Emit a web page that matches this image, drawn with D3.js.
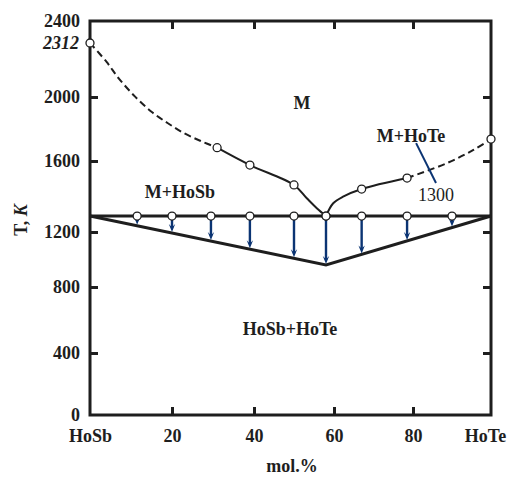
<!DOCTYPE html>
<html>
<head>
<meta charset="utf-8">
<script src="https://cdn.jsdelivr.net/npm/d3@7"></script>
<style>
  html, body { margin: 0; padding: 0; background: #fff; }
  svg { display: block; font-family: "Liberation Serif", "Times New Roman", serif; }
</style>
</head>
<body>
<svg id="chart" width="508" height="477"></svg>
<script>
// HoSb–HoTe phase diagram: composition (mol.% HoTe) vs temperature (K)

// Axis ticks and labels
const xTicks = [0, 20, 40, 60, 80, 100];
const xTickLabels = ["HoSb", "20", "40", "60", "80", "HoTe"];
const yTicks = [0, 400, 800, 1200, 1600, 2000, 2400];
const meltHoSb = 2312;

// Liquidus branches [mol.%, T]
const liquidusLeftDashed = [[0, 2312], [4, 2204], [7, 2108], [11, 2002], [15, 1908], [19, 1836], [23, 1773], [27, 1725], [31, 1683]];
const liquidusLeftSolid = [[31, 1683], [39, 1577], [50, 1465], [53.2, 1390], [55.7, 1334], [58, 1290]];
const liquidusRightSolid = [[58, 1290], [59.8, 1362], [62.3, 1399], [67, 1442], [78.5, 1504]];
const liquidusRightDashed = [[78.5, 1504], [88.6, 1587], [95.5, 1669], [100, 1737]];

// Measured liquidus points
const liquidusPoints = [[0, 2312], [31, 1683], [39, 1577], [50, 1465], [58, 1290], [67, 1442], [78.5, 1504], [100, 1737]];

// Eutectic horizontal and measured compositions on it
const eutecticT = 1290;
const eutecticPoints = [11.5, 20, 29.5, 39, 50, 58, 67, 78.5, 90];

// Solidus (lower boundary) [mol.%, T]
const solidus = [[0, 1290], [58, 960], [100, 1290]];

// Annotation line for the 1300 label [mol.%, T]
const note1300 = [[80.8, 1712], [85.9, 1476]];

const svg = d3.select("#chart");
const ink = "#1e1e1e";
const navy = "#0b3473";

const x = d3.scaleLinear().domain(xTicks).range([90, 172, 254, 334, 413, 491]);
const y = d3.scaleLinear()
  .domain([0, 400, 800, 1200, 1600, 2000, 2312, 2400])
  .range([415, 353, 287, 232, 161, 97, 43, 21]);

const fontSize = 18;

// Axes: ticks pointing inward, frame drawn as a rectangle
function styleAxis(g) {
  g.select(".domain").remove();
  g.selectAll(".tick line").attr("stroke", ink).attr("stroke-width", 3);
  g.selectAll(".tick text")
    .attr("fill", ink)
    .attr("font-size", fontSize)
    .attr("font-weight", "bold")
    .attr("font-family", "Liberation Serif, serif");
}

svg.append("g")
  .attr("transform", `translate(0,${y(0)})`)
  .call(d3.axisBottom(x).tickValues(xTicks).tickSize(-8).tickPadding(14)
    .tickFormat((d, i) => xTickLabels[i]))
  .call(styleAxis)
  .call(g => g.selectAll(".tick").filter(d => d === 0 || d === 100).select("line").remove())
  .call(g => g.selectAll(".tick").filter(d => d === 100).select("text").attr("dx", -6));

svg.append("g")
  .attr("transform", `translate(0,${y(2400)})`)
  .call(d3.axisTop(x).tickValues(xTicks.slice(1, -1)).tickSize(-8).tickFormat(""))
  .call(styleAxis);

svg.append("g")
  .attr("transform", `translate(${x(0)},0)`)
  .call(d3.axisLeft(y).tickValues(yTicks).tickSize(-8).tickPadding(10).tickFormat(d3.format("d")))
  .call(styleAxis)
  .call(g => g.selectAll(".tick").filter(d => d === 0 || d === 2400).select("line").remove());

svg.append("g")
  .attr("transform", `translate(${x(100)},0)`)
  .call(d3.axisRight(y).tickValues(yTicks.slice(1, -1)).tickSize(-8).tickFormat(""))
  .call(styleAxis);

// Melting point label of HoSb
svg.append("text")
  .attr("x", x(0) - 11).attr("y", y(meltHoSb)).attr("dy", "0.32em")
  .attr("text-anchor", "end")
  .attr("font-size", fontSize).attr("font-weight", "bold").attr("font-style", "italic")
  .attr("fill", ink)
  .text(meltHoSb);

// Plot frame
svg.append("rect")
  .attr("x", x(0)).attr("y", y(2400))
  .attr("width", x(100) - x(0)).attr("height", y(0) - y(2400))
  .attr("fill", "none").attr("stroke", ink).attr("stroke-width", 3);

// Axis titles
svg.append("text")
  .attr("transform", `translate(27,220) rotate(-90)`)
  .attr("text-anchor", "middle")
  .attr("font-size", fontSize).attr("font-weight", "bold").attr("fill", ink)
  .call(t => {
    t.append("tspan").text("T, ");
    t.append("tspan").attr("font-style", "italic").text("K");
  });

svg.append("text")
  .attr("x", 292).attr("y", 472)
  .attr("text-anchor", "middle")
  .attr("font-size", fontSize).attr("font-weight", "bold").attr("fill", ink)
  .text("mol.%");

const line = d3.line().x(d => x(d[0])).y(d => y(d[1]));
const smooth = d3.line().x(d => x(d[0])).y(d => y(d[1])).curve(d3.curveCatmullRom.alpha(0.5));

// Eutectic horizontal
svg.append("path")
  .attr("d", line([[0, eutecticT], [100, eutecticT]]))
  .attr("stroke", ink).attr("stroke-width", 3).attr("fill", "none");

// Solidus
svg.append("path")
  .attr("d", line(solidus))
  .attr("stroke", ink).attr("stroke-width", 3).attr("fill", "none")
  .attr("stroke-linejoin", "miter");

// Arrows from eutectic down to the drawn solidus
const solidusPx = d3.scaleLinear()
  .domain(solidus.map(d => x(d[0])))
  .range(solidus.map(d => y(d[1])));

const arrows = svg.append("g");
eutecticPoints.forEach(c => {
  const cx = x(c);
  const top = y(eutecticT) + 3;
  const tip = solidusPx(cx) - 1;
  const headLen = 8, headW = 3.2;
  arrows.append("line")
    .attr("x1", cx).attr("x2", cx)
    .attr("y1", top).attr("y2", tip - 4)
    .attr("stroke", navy).attr("stroke-width", 2.4);
  arrows.append("path")
    .attr("d", `M${cx},${tip} L${cx - headW},${tip - headLen} L${cx},${tip - headLen * 0.6} L${cx + headW},${tip - headLen} Z`)
    .attr("fill", navy);
});

// Liquidus
[[liquidusLeftDashed, true], [liquidusLeftSolid, false], [liquidusRightSolid, false], [liquidusRightDashed, true]]
  .forEach(([pts, dashed]) => {
    svg.append("path")
      .attr("d", smooth(pts))
      .attr("fill", "none").attr("stroke", ink).attr("stroke-width", 2)
      .attr("stroke-dasharray", dashed ? "7,4" : null);
  });

// Annotation for 1300
svg.append("path")
  .attr("d", line(note1300))
  .attr("stroke", navy).attr("stroke-width", 2).attr("fill", "none");

// Measured points
const pts = liquidusPoints.concat(eutecticPoints.map(c => [c, eutecticT]));
svg.append("g").selectAll("circle")
  .data(pts)
  .join("circle")
  .attr("cx", d => x(d[0])).attr("cy", d => y(d[1]))
  .attr("r", 4)
  .attr("fill", "#fff").attr("stroke", ink).attr("stroke-width", 1.3);

// Phase region labels
const regionLabel = (px, py, txt, bold = true) =>
  svg.append("text")
    .attr("x", px).attr("y", py).attr("dy", "0.35em")
    .attr("text-anchor", "middle")
    .attr("font-size", fontSize).attr("font-weight", bold ? "bold" : "normal")
    .attr("fill", ink)
    .text(txt);

regionLabel(302, 103, "M");
regionLabel(411, 136, "M+HoTe");
regionLabel(180, 192, "M+HoSb");
regionLabel(290, 329, "HoSb+HoTe");
regionLabel(436, 195, "1300", false);
</script>
</body>
</html>
